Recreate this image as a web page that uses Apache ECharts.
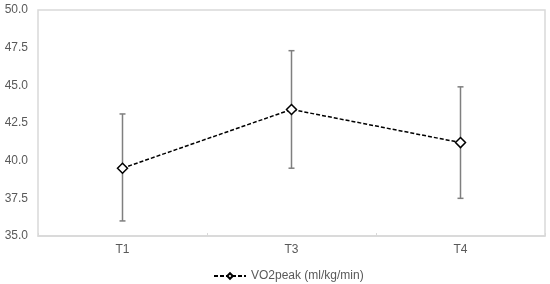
<!DOCTYPE html>
<html>
<head>
<meta charset="utf-8">
<script src="https://cdn.jsdelivr.net/npm/echarts@6/dist/echarts.min.js"></script>
<style>
  html, body { margin: 0; padding: 0; background: #fff; }
  #main { width: 550px; height: 284px; }
</style>
</head>
<body>
<div id="main"></div>
<script>
var categories = ['T1', 'T3', 'T4'];
var meanValues = [39.5, 43.4, 41.2];
var lowValues = [36.0, 39.5, 37.5];
var highValues = [43.1, 47.3, 44.9];
var seriesName = 'VO2peak (ml/kg/min)';

var errorData = categories.map(function (c, i) {
  return [i, lowValues[i], highValues[i]];
});

var myChart = echarts.init(document.getElementById('main'));
myChart.setOption({
  animation: false,
  grid: { left: 38, right: 5, top: 10, bottom: 48, show: true, borderColor: '#d9d9d9', borderWidth: 1.5 },
  legend: {
    top: 265,
    left: 208,
    data: [seriesName],
    itemWidth: 32,
    itemHeight: 7,
    itemGap: 4,
    textStyle: { fontFamily: 'Liberation Sans, Arial', fontSize: 12, color: '#595959' }
  },
  xAxis: {
    type: 'category',
    data: categories,
    boundaryGap: true,
    axisLine: { lineStyle: { color: '#d9d9d9', width: 1.5 } },
    axisTick: { show: true, inside: true, length: 3, lineStyle: { color: '#d9d9d9' } },
    axisLabel: { color: '#595959', fontFamily: 'Liberation Sans, Arial', fontSize: 12, margin: 8 }
  },
  yAxis: {
    type: 'value',
    min: 35,
    max: 50,
    interval: 2.5,
    splitLine: { show: false },
    axisLine: { show: false },
    axisTick: { show: false },
    axisLabel: {
      color: '#595959', fontFamily: 'Liberation Sans, Arial', fontSize: 12, margin: 10,
      formatter: function (v) { return v.toFixed(1); }
    }
  },
  series: [
    {
      type: 'custom',
      name: 'error',
      silent: true,
      data: errorData,
      z: 1,
      renderItem: function (params, api) {
        var x = api.coord([api.value(0), api.value(1)])[0];
        var lo = api.coord([api.value(0), api.value(1)])[1];
        var hi = api.coord([api.value(0), api.value(2)])[1];
        var cap = 3;
        var style = { stroke: '#7f7f7f', lineWidth: 1.5 };
        return {
          type: 'group',
          children: [
            { type: 'line', shape: { x1: x, y1: hi, x2: x, y2: lo }, style: style },
            { type: 'line', shape: { x1: x - cap, y1: hi, x2: x + cap, y2: hi }, style: style },
            { type: 'line', shape: { x1: x - cap, y1: lo, x2: x + cap, y2: lo }, style: style }
          ]
        };
      }
    },
    {
      type: 'line',
      name: seriesName,
      data: meanValues,
      z: 3,
      symbol: 'diamond',
      symbolSize: 10,
      showAllSymbol: true,
      lineStyle: { color: '#000', width: 1.5, type: [4, 2] },
      itemStyle: { color: '#fff', borderColor: '#000', borderWidth: 1.5 }
    }
  ]
});
</script>
</body>
</html>
